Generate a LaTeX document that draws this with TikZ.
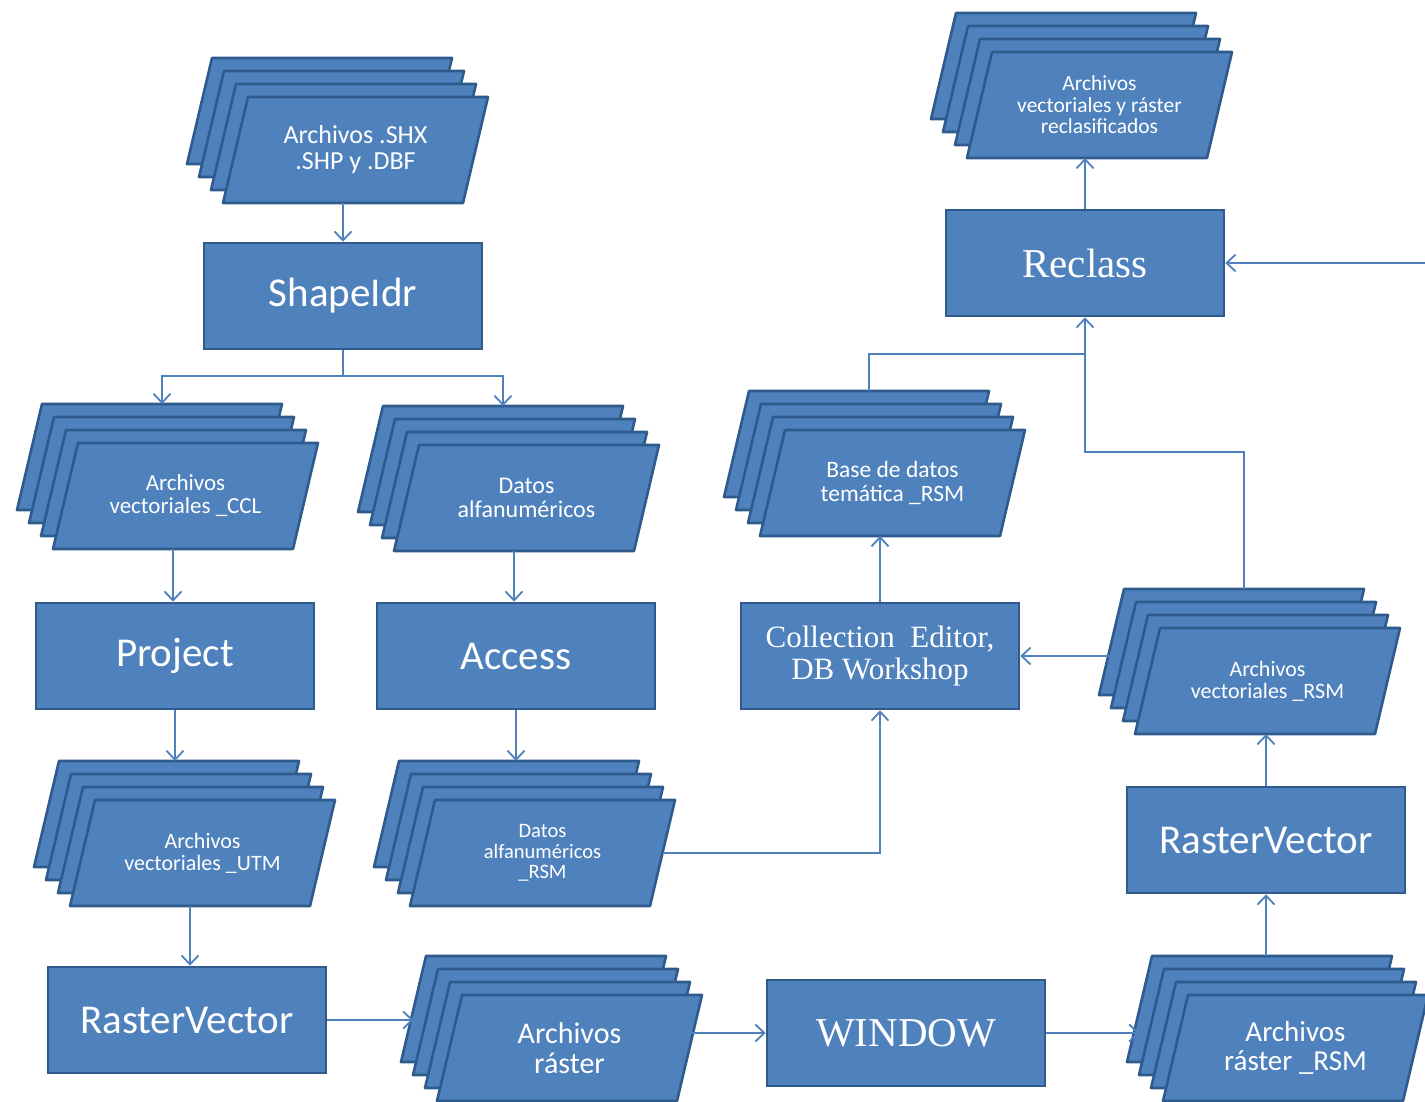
\documentclass[tikz,border=0pt]{standalone}
\usepackage{fontspec}
\setmainfont{Carlito}
\newfontfamily\serifface{Liberation Serif}
\usetikzlibrary{arrows.meta}

\definecolor{boxfill}{HTML}{4F81BD}
\definecolor{boxedge}{HTML}{2F5A8C}
\definecolor{linkblue}{HTML}{4F81BD}

\tikzset{
  layer/.style={fill=boxfill, draw=boxedge, line width=2.6pt, line join=round},
  proc/.style={fill=boxfill, draw=boxedge, line width=2.6pt, minimum width=278pt,
    minimum height=106pt, text=white, align=center, inner sep=0pt},
  sanslabel/.style={font=\fontsize{41}{46}\selectfont},
  seriflabel/.style={font=\serifface\fontsize{41}{46}\selectfont},
  stacktext/.style={text=white, align=center, inner sep=0pt},
  link/.style={draw=linkblue, line width=1.8pt},
  arr/.style={link, -{Straight Barb[length=9pt,width=17pt,line width=1.8pt]}},
}

% #1 name, #2/#3 top-left corner of the front sheet, #4 font size, #5 text
\newcommand\datastack[5]{%
  \foreach \k in {3,2,1,0}{%
    \draw[layer, shift={(-12*\k,-13*\k)}] (#2,#3) -- ++(240,0) -- ++(-25,106)
      -- ++(-240,0) -- cycle;
  }%
  \node[stacktext, font=\fontsize{#4}{#4}\selectfont] (#1) at ({#2+107.5},{#3+53}) {#5};
  \coordinate (#1-t) at ({#2-36+120},{#3-39});
  \coordinate (#1-b) at ({#2-25+120},{#3+106});
  \coordinate (#1-w) at ({#2-36-12.5},{#3-39+53});
  \coordinate (#1-e) at ({#2+240-12.5},{#3+53});
}

\begin{document}
\begin{tikzpicture}[x=1pt, y=-1pt]
\useasboundingbox (0,0) rectangle (1425,1102);
\clip (0,0) rectangle (1425,1102);
\fill[white] (0,0) rectangle (1425,1102);

% data sheets
\datastack{shx}{248}{97}{26}{Archivos .SHX\\.SHP y .DBF}
\datastack{ccl}{78}{443}{23}{Archivos\\vectoriales \_CCL}
\datastack{dat}{419}{445}{24}{Datos\\alfanuméricos}
\datastack{utm}{95}{800}{22}{Archivos\\vectoriales \_UTM}
\datastack{drsm}{435}{800}{20.5}{Datos\\alfanuméricos\\\_RSM}
\datastack{rast}{462}{995}{30}{Archivos\\ráster}
\datastack{rrsm}{1188}{995}{29}{Archivos\\ráster \_RSM}
\datastack{vrsm}{1160}{628}{22}{Archivos\\vectoriales \_RSM}
\datastack{bdt}{785}{430}{23.5}{Base de datos\\temática \_RSM}
\datastack{top}{992}{52}{21.5}{Archivos\\vectoriales y ráster\\reclasificados}

% processes
\node[proc, sanslabel] (shapeidr) at (343,296) {ShapeIdr};
\node[proc, sanslabel] (project) at (175,656) {Project};
\node[proc, sanslabel] (access) at (516,656) {Access};
\node[proc, sanslabel] (rv1) at (187,1020) {RasterVector};
\node[proc, seriflabel] (win) at (906,1033) {WINDOW};
\node[proc, font=\serifface\fontsize{31}{32}\selectfont] (coll) at (880,656) {Collection\ \ Editor,\\DB Workshop};
\node[proc, seriflabel] (reclass) at (1085,263) {Reclass};
\node[proc, sanslabel] (rv2) at (1266,840) {RasterVector};

% junction points
\coordinate (split) at (343,376);
\coordinate (j1) at (1085,452);
\coordinate (j2) at (1085,354);
\coordinate (redge) at (1425,263);

% connectors
\draw[arr] (shx-b) -- (shx-b |- shapeidr.north);
\draw[link] (shapeidr.south) -- (split);
\draw[arr] (split) -| (ccl-t);
\draw[arr] (split) -| (dat-t);
\draw[arr] (ccl-b) -- (ccl-b |- project.north);
\draw[arr] (dat-b) -- (dat-b |- access.north);
\draw[arr] (project.south) -- (project.south |- utm-t);
\draw[arr] (access.south) -- (access.south |- drsm-t);
\draw[arr] (utm-b) -- (utm-b |- rv1.north);
\draw[arr] (rv1.east) -- (rv1.east -| rast-w);
\draw[arr] (rast-e |- win.west) -- (win.west);
\draw[arr] (win.east) -- (win.east -| rrsm-w);
\draw[arr] (rv2.south |- rrsm-t) -- (rv2.south);
\draw[arr] (rv2.north) -- (rv2.north |- vrsm-b);
\draw[arr] (vrsm-w |- coll.east) -- (coll.east);
\draw[arr] (vrsm-t) |- (j1) -- (reclass.south);
\draw[link] (bdt-t) |- (j2);
\draw[arr] (coll.north) -- (coll.north |- bdt-b);
\draw[arr] (drsm-e) -| (coll.south);
\draw[arr] (reclass.north) -- (reclass.north |- top-b);
\draw[arr] (reclass.east -| redge) -- (reclass.east);
\end{tikzpicture}
\end{document}
